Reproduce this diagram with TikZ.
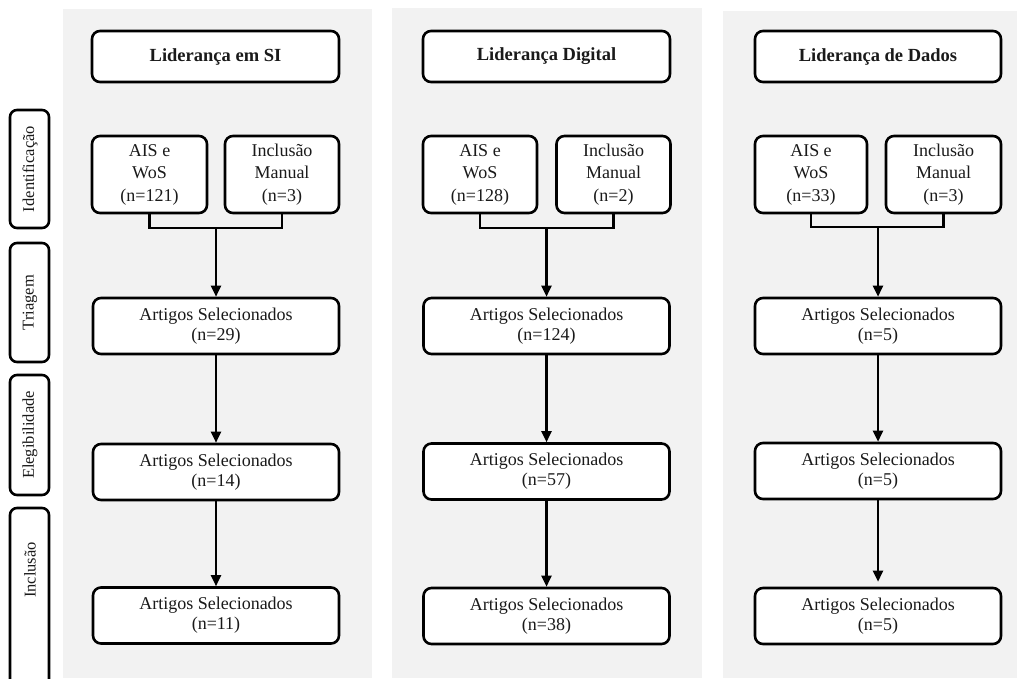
\documentclass[tikz,border=0pt]{standalone}
\usepackage{fontspec}
\setmainfont{Liberation Serif}
\usetikzlibrary{arrows.meta}
\definecolor{panelgray}{HTML}{F2F2F2}
\definecolor{inkgray}{HTML}{1A1A1A}
\tikzset{
  panel/.style={fill=panelgray, draw=none},
  box/.style={draw=black, line width=2.6pt, rounded corners=8pt, fill=white,
    inner sep=0pt, align=center, text=inkgray, font=\fontsize{18}{20}\selectfont},
  titlebox/.style={box, minimum width=247pt, minimum height=51pt,
    font=\fontsize{18.5}{20}\selectfont\bfseries},
  srcbox/.style={box, minimum width=114pt, minimum height=77pt,
    font=\fontsize{18}{22.5}\selectfont},
  selbox/.style={box, minimum width=246pt, minimum height=56pt},
  phasebox/.style={draw=black, line width=2.6pt, rounded corners=7pt, fill=white},
  phasetext/.style={rotate=90, inner sep=0pt, text=inkgray, font=\fontsize{16.5}{20}\selectfont},
  conn/.style={draw=black, line width=2.3pt},
  arr/.style={conn, -{Triangle[length=11pt,width=10pt]}}
}
\begin{document}
\begin{tikzpicture}[x=1pt,y=-1pt]
\useasboundingbox (0,0) rectangle (1017,678);
\clip (0,0) rectangle (1017,678);
\fill[white] (0,0) rectangle (1017,678);
% panels
\path[panel] (63,9) rectangle (372,678);
\path[panel] (392,8) rectangle (702,678);
\path[panel] (723,11) rectangle (1017,678);
% phase labels
\draw[phasebox] (10,110) rectangle (49,228);
\node[phasetext] (ph1) at (30,169) {Identificação};
\draw[phasebox] (10,243) rectangle (49,362);
\node[phasetext] (ph2) at (30,302.5) {Triagem};
\draw[phasebox] (10,375) rectangle (49,495);
\node[phasetext] (ph3) at (30,435) {Elegibilidade};
\draw[phasebox] (10,508) rectangle (49,700);
\node[phasetext] (ph4) at (30,570) {Inclusão};
% panel 1
\node[titlebox] (t1) at (215.5,56.5) {Liderança em SI};
\node[srcbox, minimum width=115pt] (a1) at (149.5,174.5) {AIS e\\WoS\\(n=121)};
\node[srcbox] (m1) at (282,174.5) {Inclusão\\Manual\\(n=3)};
\node[selbox] (s1a) at (216,326) {Artigos Selecionados\\(n=29)};
\node[selbox] (s1b) at (216,472) {Artigos Selecionados\\(n=14)};
\node[selbox] (s1c) at (216,615.5) {Artigos Selecionados\\(n=11)};
\coordinate (j1) at (216,228);
\draw[conn] (a1.south) |- (j1) -| (m1.south);
\draw[arr] (j1) -- (s1a.north);
\draw[arr] (s1a.south) -- (s1b.north);
\draw[arr] (s1b.south) -- (s1c.north);
% panel 2
\node[titlebox] (t2) at (546.5,56.5) {Liderança Digital};
\node[srcbox] (a2) at (480,174.5) {AIS e\\WoS\\(n=128)};
\node[srcbox] (m2) at (613.5,174.5) {Inclusão\\Manual\\(n=2)};
\node[selbox] (s2a) at (546.5,326) {Artigos Selecionados\\(n=124)};
\node[selbox] (s2b) at (546.5,471.5) {Artigos Selecionados\\(n=57)};
\node[selbox] (s2c) at (546.5,616) {Artigos Selecionados\\(n=38)};
\coordinate (j2) at (546.5,228);
\draw[conn] (a2.south) |- (j2) -| (m2.south);
\draw[arr] (j2) -- (s2a.north);
\draw[arr] (s2a.south) -- (s2b.north);
\draw[arr] (s2b.south) -- (s2c.north);
% panel 3
\node[titlebox, minimum width=246pt] (t3) at (878,56.5) {Liderança de Dados};
\node[srcbox, minimum width=112pt] (a3) at (811,174.5) {AIS e\\WoS\\(n=33)};
\node[srcbox, minimum width=115pt] (m3) at (943.5,174.5) {Inclusão\\Manual\\(n=3)};
\node[selbox] (s3a) at (878,326) {Artigos Selecionados\\(n=5)};
\node[selbox] (s3b) at (878,471) {Artigos Selecionados\\(n=5)};
\node[selbox] (s3c) at (878,616) {Artigos Selecionados\\(n=5)};
\coordinate (j3) at (878,227);
\draw[conn] (a3.south) |- (j3) -| (m3.south);
\draw[arr] (j3) -- (s3a.north);
\draw[arr] (s3a.south) -- (s3b.north);
\draw[arr, shorten >=5pt] (s3b.south) -- (s3c.north);
\end{tikzpicture}
\end{document}
